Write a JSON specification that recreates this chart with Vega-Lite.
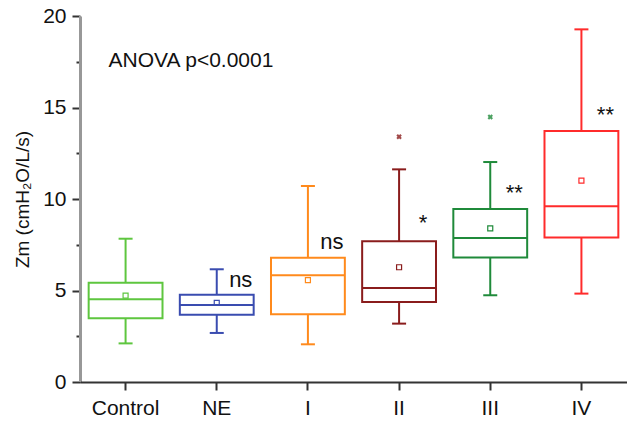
{
  "$schema": "https://vega.github.io/schema/vega-lite/v6.json",
  "width": 547,
  "height": 366,
  "autosize": "none",
  "padding": {"left": 80, "top": 16, "right": 0, "bottom": 40},
  "background": "white",
  "config": {"view": {"stroke": null}, "font": "Liberation Sans"},
  "data": {"values": [
    {"group": "Control", "lo": 2.11, "q1": 3.48, "med": 4.52, "q3": 5.43, "hi": 7.83, "mean": 4.72, "outlier": null, "label": "", "labelY": null},
    {"group": "NE", "lo": 2.68, "q1": 3.68, "med": 4.21, "q3": 4.77, "hi": 6.16, "mean": 4.32, "outlier": null, "label": "ns", "labelY": 5.6},
    {"group": "I", "lo": 2.06, "q1": 3.7, "med": 5.83, "q3": 6.79, "hi": 10.71, "mean": 5.57, "outlier": null, "label": "ns", "labelY": 7.65},
    {"group": "II", "lo": 3.19, "q1": 4.37, "med": 5.14, "q3": 7.69, "hi": 11.62, "mean": 6.27, "outlier": 13.4, "label": "*", "labelY": 8.7},
    {"group": "III", "lo": 4.74, "q1": 6.81, "med": 7.87, "q3": 9.45, "hi": 12.02, "mean": 8.4, "outlier": 14.48, "label": "**", "labelY": 10.35},
    {"group": "IV", "lo": 4.83, "q1": 7.89, "med": 9.6, "q3": 13.72, "hi": 19.27, "mean": 11.0, "outlier": null, "label": "**", "labelY": 14.6}
  ]},
  "encoding": {
    "x": {"field": "group", "type": "nominal", "sort": null,
      "scale": {"paddingInner": 0, "paddingOuter": 0},
      "axis": {"title": null, "labelAngle": 0, "labelFontSize": 21, "labelColor": "#111", "labelPadding": 7,
        "tickSize": 8, "tickWidth": 2, "tickColor": "#333", "domainColor": "#333", "domainWidth": 2}},
    "color": {"field": "group", "type": "nominal", "sort": null, "legend": null,
      "scale": {"domain": ["Control", "NE", "I", "II", "III", "IV"],
        "range": ["#5ec63f", "#3a4cb0", "#ff8a1c", "#8a1c1c", "#1f8a3a", "#ff2b2b"]}}
  },
  "layer": [
    {"mark": {"type": "rule", "strokeWidth": 2},
      "encoding": {"y": {"field": "lo", "type": "quantitative", "scale": {"domain": [0, 20], "nice": false},
        "axis": {"title": "Zm (cmH₂O/L/s)", "titleFontSize": 19, "titleFontWeight": "normal", "titleColor": "#111", "titlePadding": 10,
          "values": [0, 2.5, 5, 7.5, 10, 12.5, 15, 17.5, 20],
          "labelExpr": "datum.value % 5 === 0 ? datum.label : ''",
          "labelFontSize": 21, "labelColor": "#111", "labelPadding": 6,
          "tickSize": {"condition": {"test": "datum.value % 5 === 0", "value": 8}, "value": 4},
          "tickWidth": 2, "tickColor": "#333", "domainColor": "#333", "domainWidth": 2, "grid": false}},
        "y2": {"field": "q1"}}},
    {"mark": {"type": "rule", "strokeWidth": 2},
      "encoding": {"y": {"field": "q3", "type": "quantitative"}, "y2": {"field": "hi"}}},
    {"mark": {"type": "bar", "fill": "white", "strokeWidth": 2, "width": {"band": 0.81}},
      "encoding": {"y": {"field": "q1", "type": "quantitative"}, "y2": {"field": "q3"}, "stroke": {"field": "group", "type": "nominal", "sort": null, "legend": null, "scale": {"domain": ["Control", "NE", "I", "II", "III", "IV"],
        "range": ["#5ec63f", "#3a4cb0", "#ff8a1c", "#8a1c1c", "#1f8a3a", "#ff2b2b"]}}, "color": {"value": "white"}}},
    {"mark": {"type": "tick", "size": 74, "thickness": 2, "opacity": 1},
      "encoding": {"y": {"field": "med", "type": "quantitative"}}},
    {"mark": {"type": "tick", "size": 14, "thickness": 2, "opacity": 1},
      "encoding": {"y": {"field": "lo", "type": "quantitative"}}},
    {"mark": {"type": "tick", "size": 14, "thickness": 2, "opacity": 1},
      "encoding": {"y": {"field": "hi", "type": "quantitative"}}},
    {"mark": {"type": "point", "shape": "square", "size": 25, "filled": false, "strokeWidth": 1.2, "opacity": 1},
      "encoding": {"y": {"field": "mean", "type": "quantitative"}}},
    {"mark": {"type": "point", "shape": "cross", "angle": 45, "size": 30, "filled": true, "opacity": 0.8},
      "encoding": {"y": {"field": "outlier", "type": "quantitative"}}},
    {"mark": {"type": "text", "dx": 24, "fontSize": 22, "color": "#111"},
      "encoding": {"y": {"field": "labelY", "type": "quantitative"}, "text": {"field": "label"}, "color": {"value": "#111"}}},
    {"data": {"values": [{"group": "Control", "v": 17.55, "t": "ANOVA p<0.0001"}]},
      "mark": {"type": "text", "align": "left", "dx": -17, "fontSize": 21, "color": "#111"},
      "encoding": {"y": {"field": "v", "type": "quantitative"}, "text": {"field": "t"}, "color": {"value": "#111"}}},
    {"mark": {"type": "rule", "color": "#999", "strokeWidth": 1.5},
      "encoding": {"y": {"datum": 20}, "color": {"value": "#999"}, "x": {"value": 0}, "x2": {"width": 1}}}
  ]
}
